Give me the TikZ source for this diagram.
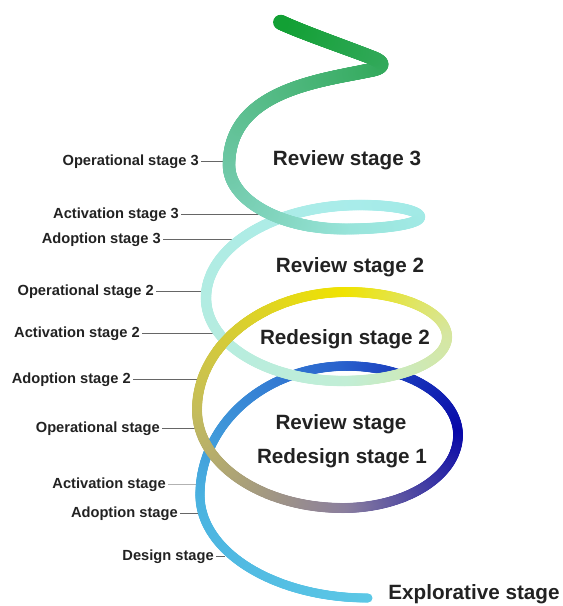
\documentclass[tikz,border=0pt]{standalone}
\usepackage{fontspec}
\setmainfont{Liberation Sans}
\usetikzlibrary{decorations.markings}

% colours along the spiral, from the bottom end to the top end
\definecolor{cA0}{HTML}{5CC8E6}
\definecolor{cA1}{HTML}{4AB2E0}
\definecolor{cA2}{HTML}{2860CC}
\definecolor{cA3}{HTML}{0808A8}
\definecolor{cA4}{HTML}{8A7E9E}
\definecolor{cA5}{HTML}{C4BC5C}
\definecolor{cA6}{HTML}{F0E300}
\definecolor{cA7}{HTML}{D6E6A0}
\definecolor{cA8}{HTML}{C2EED6}
\definecolor{cA9}{HTML}{B2ECE2}
\definecolor{cA10}{HTML}{A8ECEA}
\definecolor{cA11}{HTML}{A2EAE6}
\definecolor{cA12}{HTML}{98E4DA}
\definecolor{cA13}{HTML}{6EC8A6}
\definecolor{cB1}{HTML}{38AC62}
\definecolor{cB2}{HTML}{30A858}
\definecolor{cE}{HTML}{12A034}
\definecolor{labtext}{HTML}{222222}
\definecolor{leadgray}{HTML}{666666}

\tikzset{
  % a tube whose colour and width change along the path:
  % #1,#2 start/end colour, #3,#4 start/end width (px), #5,#6 part of the path drawn
  tube/.style n args={6}{
    decorate,
    decoration={markings,
      mark=between positions #5 and #6 step 0.5pt with {
        \pgfmathsetmacro\tubef{\pgfkeysvalueof{/pgf/decoration/mark info/distance from start}/\pgfdecoratedpathlength}
        \pgfmathsetmacro\tubep{100*(1-\tubef)}
        \pgfmathsetmacro\tuber{0.375*(#3+(#4-#3)*\tubef)}
        \fill[#1!\tubep!#2] (0,0) circle[radius=\tuber pt];
      }}
  },
  lab/.style={font=\bfseries\fontsize{11}{13}\selectfont, text=labtext, inner sep=1.5pt, anchor=east},
  big/.style={font=\bfseries\fontsize{15.5}{18}\selectfont, text=labtext, inner sep=0pt},
  lead/.style={draw=leadgray, line width=0.6pt},
}

\begin{document}
\begin{tikzpicture}[x=0.75pt,y=-0.75pt]
\useasboundingbox (0,0) rectangle (562,606);

% key points of the spiral
\coordinate (A0) at (368,598);
\coordinate (A1) at (200,495);
\coordinate (A2) at (347,366);
\coordinate (A3) at (458,435);
\coordinate (A4) at (343,508);
\coordinate (A5) at (197,410);
\coordinate (A6) at (347,292);
\coordinate (A7) at (447,337);
\coordinate (A8) at (343,381);
\coordinate (A9) at (206,298);
\coordinate (A10) at (360,205);
\coordinate (A11) at (420,217);
\coordinate (A12) at (345,229);
\coordinate (A13) at (229,165);
\coordinate (B1) at (371,70);
\coordinate (B2) at (373,58);
\coordinate (E) at (280,22);

% stage labels with leader lines
\node[lab] (op3) at (201,162) {Operational stage 3};
\coordinate (op3e) at (224,161);
\node[lab] (act3) at (181,215) {Activation stage 3};
\coordinate (act3e) at (266,214);
\node[lab] (ado3) at (163,240) {Adoption stage 3};
\coordinate (ado3e) at (244,239);
\node[lab] (op2) at (156,292) {Operational stage 2};
\coordinate (op2e) at (206,291);
\node[lab] (act2) at (142,334) {Activation stage 2};
\coordinate (act2e) at (219,333);
\node[lab] (ado2) at (133,380) {Adoption stage 2};
\coordinate (ado2e) at (203,379);
\node[lab] (op1) at (162,429) {Operational stage};
\coordinate (op1e) at (200,428);
\node[lab] (act1) at (168,485) {Activation stage};
\coordinate (act1e) at (199,484);
\node[lab] (ado1) at (180,514) {Adoption stage};
\coordinate (ado1e) at (202,513);
\node[lab] (des) at (216,557) {Design stage};
\coordinate (dese) at (225,556);

\draw[lead] (op3.east |- op3e) -- (op3e);
\draw[lead] (act3.east |- act3e) -- (act3e);
\draw[lead] (ado3.east |- ado3e) -- (ado3e);
\draw[lead] (op2.east |- op2e) -- (op2e);
\draw[lead] (act2.east |- act2e) -- (act2e);
\draw[lead] (ado2.east |- ado2e) -- (ado2e);
\draw[lead] (op1.east |- op1e) -- (op1e);
\draw[lead, draw=leadgray!50] (act1.east |- act1e) -- (act1e);
\draw[lead] (ado1.east |- ado1e) -- (ado1e);
\draw[lead] (des.east |- dese) -- (dese);

% the spiral, drawn from the bottom end upwards
\path[tube={cA0}{cA1}{9}{9.2}{0}{1}]     (A0) .. controls (275.2,598) and (200,551.9) .. (A1);
\path[tube={cA1}{cA2}{9.2}{9.5}{0}{1}]   (A1) .. controls (200,423.8) and (265.8,366) .. (A2);
\path[tube={cA2}{cA3}{9.5}{9.8}{0}{1}]   (A2) .. controls (408.3,366) and (458,396.9) .. (A3);
\path[tube={cA3}{cA4}{9.8}{10}{0}{1}]    (A3) .. controls (458,475.3) and (406.5,508) .. (A4);
\path[tube={cA4}{cA5}{10}{10}{0}{1}]     (A4) .. controls (262.4,508) and (197,464.1) .. (A5);
\path[tube={cA5}{cA6}{10}{10}{0}{1}]     (A5) .. controls (197,344.8) and (264.2,292) .. (A6);
\path[tube={cA6}{cA7}{10}{10.2}{0}{1}]   (A6) .. controls (402.2,292) and (447,312.1) .. (A7);
\path[tube={cA7}{cA8}{10.2}{10.4}{0}{1}] (A7) .. controls (447,361.3) and (400.4,381) .. (A8);
\path[tube={cA8}{cA9}{10.4}{10.5}{0}{1}] (A8) .. controls (267.3,381) and (206,343.8) .. (A9);
\path[tube={cA9}{cA10}{10.5}{10.5}{0}{1}] (A9) .. controls (206,246.6) and (274.9,205) .. (A10);
\path[tube={cA10}{cA11}{10.5}{10.6}{0}{1}] (A10) .. controls (393.1,205) and (420,210.4) .. (A11);
\path[tube={cA11}{cA12}{10.6}{11}{0}{1}] (A11) .. controls (420,223.6) and (386.4,229) .. (A12);
\path[tube={cA12}{cA13}{11}{12.5}{0}{1}] (A12) .. controls (280.9,229) and (229,200.3) .. (A13);
\path[tube={cA13}{cB1}{12.5}{14}{0}{1}]  (A13) .. controls (229,90) and (322,80.4) .. (B1);
\path[tube={cB1}{cB2}{14}{14.2}{0}{1}]   (B1) .. controls (384,67.5) and (385,62.5) .. (B2);
\path[tube={cB2}{cE}{14.2}{15}{0}{1}]    (B2) .. controls (344,46.75) and (302.7,32.6) .. (E);
% the rising yellow strand passes in front of the pale cyan one
\path[tube={cA5}{cA6}{10}{10}{0.3}{0.6}] (A5) .. controls (197,344.8) and (264.2,292) .. (A6);

% stage titles inside the loops
\node[big] (rev3) at (347,160) {Review stage 3};
\node[big] (rev2) at (350,267) {Review stage 2};
\node[big] (red2) at (345,339) {Redesign stage 2};
\node[big] (rev1) at (341,424) {Review stage};
\node[big] (red1) at (342,458) {Redesign stage 1};
\node[big] (expl) at (474,594.5) {Explorative stage};
\end{tikzpicture}
\end{document}
